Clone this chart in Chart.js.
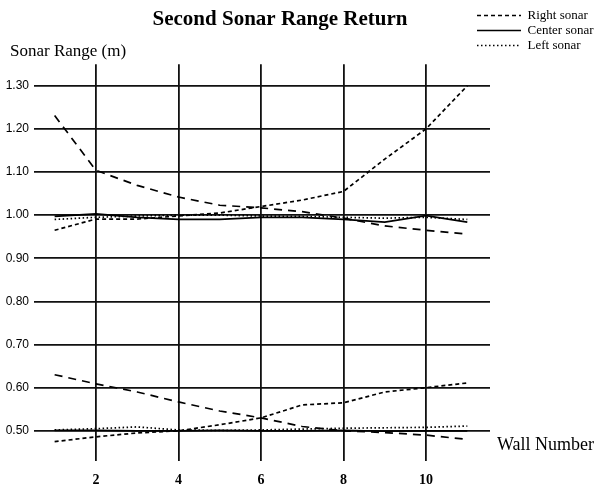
<!DOCTYPE html>
<html>
<head>
<meta charset="utf-8">
<script src="https://cdn.jsdelivr.net/npm/chart.js@4.4.1/dist/chart.umd.min.js"></script>
<style>
html,body{margin:0;padding:0;background:#fff;}
#wrap{width:598px;height:487px;}
</style>
</head>
<body>
<div id="wrap"><canvas id="c" width="598" height="487"></canvas></div>
<script>
// ---- data ----
const walls = [1, 2, 3, 4, 5, 6, 7, 8, 9, 10, 11];
const xTicks = [2, 4, 6, 8, 10];
const yTicks = [0.5, 0.6, 0.7, 0.8, 0.9, 1.0, 1.1, 1.2, 1.3];

// upper group (~1.0 m)
const rightUpper  = [0.965, 0.991, 0.991, 0.998, 1.005, 1.020, 1.035, 1.055, 1.130, 1.200, 1.300];
const centerUpper = [0.997, 1.003, 0.995, 0.990, 0.990, 0.995, 0.995, 0.990, 0.984, 0.999, 0.984];
const leftUpper   = [0.990, 0.995, 0.998, 1.000, 1.000, 0.998, 0.997, 0.995, 0.993, 0.995, 0.990];
const dashUpper   = [1.231, 1.104, 1.069, 1.042, 1.023, 1.017, 1.008, 0.993, 0.975, 0.965, 0.956];

// lower group (~0.5 m)
const rightLower  = [0.475, 0.486, 0.495, 0.500, 0.514, 0.530, 0.560, 0.565, 0.590, 0.600, 0.611];
const centerLower = [0.501, 0.501, 0.500, 0.500, 0.501, 0.500, 0.500, 0.501, 0.499, 0.500, 0.500];
const leftLower   = [0.502, 0.505, 0.509, 0.502, 0.501, 0.502, 0.504, 0.506, 0.507, 0.508, 0.511];
const dashLower   = [0.630, 0.609, 0.590, 0.567, 0.546, 0.530, 0.510, 0.500, 0.496, 0.490, 0.480];

const titleText = 'Second Sonar Range Return';
const yLabel = 'Sonar Range (m)';
const xLabel = 'Wall Number';

// ---- styles ----
const SHORT = [4, 3];
const LONG = [8, 6];
const DOT = [1.5, 2.5];
const pts = arr => walls.map((w, i) => ({x: w, y: arr[i]}));
const mk = (label, arr, dash) => ({
  label, data: pts(arr), borderColor: '#000', backgroundColor: '#000',
  borderWidth: 1.7, borderDash: dash, pointRadius: 0, tension: 0, fill: false
});

const datasets = [
  mk('Right sonar', rightUpper, SHORT),
  mk('Center sonar', centerUpper, []),
  mk('Left sonar', leftUpper, DOT),
  mk('Right sonar (long dash)', dashUpper, LONG),
  mk('Right sonar', rightLower, SHORT),
  mk('Center sonar', centerLower, []),
  mk('Left sonar', leftLower, DOT),
  mk('Right sonar (long dash)', dashLower, LONG)
];

const serif = '"Liberation Serif", "Times New Roman", serif';

const placement = {
  id: 'placement',
  beforeDraw(chart) {
    const lg = chart.legend;
    if (lg) { lg.left = 475; lg.top = 7; lg.right = 598; lg.bottom = 64; }
    const tb = chart.titleBlock;
    if (tb) { tb.left = 0; tb.right = 560; }
  },
  afterDraw(chart) {
    const ctx = chart.ctx;
    ctx.save();
    ctx.fillStyle = '#000';
    ctx.textBaseline = 'middle';
    ctx.textAlign = 'left';
    ctx.font = '17px ' + serif;
    ctx.fillText(yLabel, 10, 52);
    ctx.font = '18px ' + serif;
    ctx.fillText(xLabel, 497, 445);
    ctx.restore();
  }
};

new Chart(document.getElementById('c'), {
  type: 'line',
  data: {datasets},
  plugins: [placement],
  options: {
    responsive: false,
    animation: false,
    layout: {padding: {left: 0, right: 108, top: 0, bottom: 0}},
    plugins: {
      title: {
        display: true, text: titleText, color: '#000',
        font: {family: serif, size: 21, weight: 'bold'},
        padding: {top: 7, bottom: 32}
      },
      legend: {
        display: true, position: 'chartArea', align: 'start',
        labels: {
          color: '#000', font: {family: serif, size: 13},
          usePointStyle: true, pointStyle: 'line', pointStyleWidth: 44,
          boxHeight: 13, padding: 2,
          filter: item => item.datasetIndex < 3,
          generateLabels: chart => Chart.defaults.plugins.legend.labels.generateLabels(chart).map(item => {
            const ds = chart.data.datasets[item.datasetIndex];
            item.lineDash = ds.borderDash;
            item.lineWidth = ds.borderWidth;
            item.strokeStyle = ds.borderColor;
            return item;
          })
        }
      },
      tooltip: {enabled: false}
    },
    scales: {
      x: {
        type: 'linear', min: 0.5, max: 11.55,
        afterBuildTicks: s => { s.ticks = xTicks.map(v => ({value: v})); },
        afterFit: s => { s.height = 26; },
        grid: {color: '#111', lineWidth: 1.8, drawTicks: false},
        border: {display: false},
        ticks: {color: '#000', padding: 11, font: {family: serif, size: 14, weight: 'bold'}}
      },
      y: {
        type: 'linear', min: 0.43, max: 1.35,
        afterBuildTicks: s => { s.ticks = yTicks.map(v => ({value: v})); },
        afterFit: s => { s.width = 34; },
        grid: {color: '#111', lineWidth: 1.8, drawTicks: false},
        border: {display: false},
        ticks: {color: '#000', padding: 5, font: {family: '"Liberation Sans", Arial, sans-serif', size: 12},
          callback: v => Number(v).toFixed(2)}
      }
    }
  }
});
</script>
</body>
</html>
